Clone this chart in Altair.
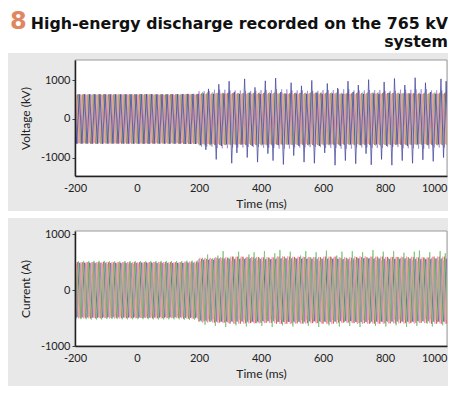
import altair as alt
import pandas as pd
from bisect import bisect_right

alt.data_transformers.disable_max_rows()

# ---------------- data ----------------
FIG_NUM = "8"
TITLE_LINES = ["High-energy discharge recorded on the 765 kV", "system"]

X_TICKS = [-200, 0, 200, 400, 600, 800, 1000]
V_TICKS = [-1000, 0, 1000]
I_TICKS = [-1000, -500, 0, 500, 1000]

FREQ_HZ = 60
TRACES = ["A1", "B1", "C1", "A2", "B2", "C2"]
COLORS = ["#e0393b", "#6cc06a", "#3d4299", "#9c82d2", "#f08ca2", "#c5ae84"]

# start of each 50 ms segment (ms)
SEG_START_MS = [-200, -150, -100, -50, 0, 50, 100, 150, 200, 250, 300, 350,
                400, 450, 500, 550, 600, 650, 700, 750, 800, 850, 900, 950]

# voltage peak amplitude per segment (kV)
V_AMP = {
    "A1": [635, 640, 638, 642, 640, 636, 640, 645, 660, 670, 665, 672, 668, 660, 670, 675, 665, 660, 668, 672, 670, 665, 660, 668],
    "B1": [645, 648, 642, 640, 646, 644, 648, 650, 690, 680, 670, 685, 690, 675, 680, 690, 685, 678, 682, 690, 680, 675, 680, 685],
    "C1": [640, 642, 638, 640, 644, 640, 642, 650, 660, 660, 660, 660, 660, 660, 660, 660, 660, 660, 660, 660, 660, 660, 660, 660],
    "A2": [640, 638, 642, 644, 640, 642, 640, 650, 720, 760, 740, 730, 750, 770, 740, 730, 750, 770, 740, 750, 730, 760, 770, 740],
    "B2": [630, 628, 632, 630, 634, 630, 628, 632, 650, 660, 655, 650, 658, 662, 650, 655, 660, 652, 650, 658, 655, 660, 650, 655],
    "C2": [620, 622, 618, 620, 624, 620, 622, 620, 640, 645, 650, 640, 645, 648, 640, 642, 650, 645, 640, 648, 645, 650, 640, 645],
}
# disturbed voltage trace: per-cycle peaks / troughs from 200 ms (kV)
V_SPIKE_TRACE = "C1"
V_SPIKE_PEAK = [660, 780, 650, 900, 660, 980, 700, 650, 1040, 680, 820, 650,
                990, 660, 1060, 700, 650, 940, 660, 860, 650, 1000, 680, 650,
                920, 660, 800, 650, 980, 700, 880, 650, 1020, 660, 650, 960,
                680, 1050, 650, 880, 660, 1070, 650, 940, 700, 650, 1040, 980]
V_SPIKE_TROUGH = [-680, -800, -660, -1050, -700, -660, -1150, -880, -660, -1000, -700, -1120,
                  -660, -900, -1080, -680, -1180, -660, -950, -700, -1120, -660, -1150, -700,
                  -880, -660, -1200, -700, -1080, -660, -1160, -680, -900, -1190, -660, -1050,
                  -700, -1200, -660, -1080, -700, -1150, -660, -1060, -680, -1100, -660, -1000]

# current peak amplitude per segment (A)
I_AMP = {
    "A1": [500, 505, 498, 502, 500, 504, 500, 510, 560, 580, 600, 590, 585, 600, 595, 590, 600, 580, 590, 600, 595, 590, 585, 600],
    "B1": [520, 525, 518, 522, 520, 524, 522, 530, 580, 580, 580, 580, 580, 580, 580, 580, 580, 580, 580, 580, 580, 580, 580, 580],
    "C1": [490, 492, 488, 490, 494, 490, 488, 495, 540, 560, 555, 560, 550, 565, 560, 555, 560, 550, 565, 560, 555, 560, 550, 560],
    "A2": [480, 482, 478, 480, 484, 480, 482, 485, 560, 570, 565, 575, 560, 570, 575, 565, 570, 560, 575, 570, 565, 570, 560, 570],
    "B2": [505, 500, 508, 504, 500, 506, 502, 510, 580, 590, 600, 595, 590, 605, 600, 595, 600, 590, 605, 600, 595, 600, 590, 600],
    "C2": [470, 472, 468, 470, 474, 470, 468, 475, 520, 530, 525, 530, 520, 535, 530, 525, 530, 520, 535, 530, 525, 530, 520, 530],
}
I_SPIKE_TRACE = "B1"
I_SPIKE_PEAK = [580, 640, 570, 620, 700, 580, 600, 690, 570, 640, 680, 580,
                700, 570, 660, 720, 580, 690, 570, 620, 700, 580, 680, 570,
                710, 580, 620, 690, 570, 700, 580, 680, 570, 720, 580, 690,
                570, 700, 580, 670, 570, 690, 710, 580, 680, 570, 700, 660]
I_SPIKE_TROUGH = [-560, -620, -570, -640, -560, -660, -570, -630, -560, -650, -570, -590,
                  -640, -560, -660, -570, -630, -560, -650, -570, -600, -640, -560, -660,
                  -570, -630, -560, -650, -570, -640, -560, -660, -570, -590, -640, -560,
                  -650, -570, -630, -560, -660, -570, -640, -560, -600, -650, -570, -630]

# ---------------- build waveforms (zig-zag between recorded peaks) ----------------
HALF_MS = 1000.0 / (2 * FREQ_HZ)
CYCLE_MS = 2 * HALF_MS


def build(amps, spike_trace, spike_peak, spike_trough):
    rows = []
    for k, name in enumerate(TRACES):
        off = k * CYCLE_MS / len(TRACES)
        n = 0
        while True:
            t = -200 - HALF_MS + off + n * HALF_MS
            if t > 1000 + HALF_MS:
                break
            pos = (n % 2 == 0)
            if name == spike_trace and t >= 200:
                c = min(int((t - 200) // CYCLE_MS), len(spike_peak) - 1)
                v = spike_peak[c] if pos else spike_trough[c]
            else:
                s = max(0, min(len(SEG_START_MS) - 1, bisect_right(SEG_START_MS, t) - 1))
                v = amps[name][s] if pos else -amps[name][s]
            rows.append({"t": t, "v": v, "trace": name})
            n += 1
    return pd.DataFrame(rows)


v_df = build(V_AMP, V_SPIKE_TRACE, V_SPIKE_PEAK, V_SPIKE_TROUGH)
i_df = build(I_AMP, I_SPIKE_TRACE, I_SPIKE_PEAK, I_SPIKE_TROUGH)

W = 372
FONT = "Lato"
one = pd.DataFrame({"k": [0]})


def panel(df, ytitle, ydom, yticks, h, spike, bg_top, bg_bottom, extra=None):
    xenc = alt.X("t:Q", scale=alt.Scale(domain=[-200, 1000], nice=False, zero=False),
                 axis=alt.Axis(values=X_TICKS, title="Time (ms)", tickSize=0, labelPadding=6,
                               titlePadding=5, grid=False, zindex=1,
                               labelExpr="'' + datum.value",
                               labelAlign={"condition": {"test": "datum.value >= 1000", "value": "right"},
                                           "value": "center"}))
    yenc = alt.Y("v:Q", scale=alt.Scale(domain=ydom, nice=False, zero=False),
                 axis=alt.Axis(values=yticks, title=ytitle, tickSize=3, labelPadding=2,
                               labelExpr="'' + datum.value",
                               titlePadding=8, grid=False, zindex=1))
    cenc = alt.Color("trace:N", scale=alt.Scale(domain=TRACES, range=COLORS), legend=None)

    bg = alt.Chart(one).mark_rect(color="#e8e8e8").encode(
        x=alt.value(-67), x2=alt.value(W + 1), y=alt.value(bg_top), y2=alt.value(bg_bottom))
    plot_bg = alt.Chart(one).mark_rect(fill="white", stroke="#9a9a9a", strokeWidth=1).encode(
        x=alt.value(0), x2=alt.value(W), y=alt.value(0), y2=alt.value(h))
    lines = alt.Chart(df[df.trace != spike]).mark_line(strokeWidth=0.8, clip=True, opacity=0.85).encode(
        x=xenc, y=yenc, color=cenc, detail="trace:N")
    sp = alt.Chart(df[df.trace == spike]).mark_line(strokeWidth=0.8, clip=True, opacity=0.9).encode(
        x="t:Q", y="v:Q", color=cenc)
    layers = [bg, plot_bg, lines, sp]
    if extra:
        layers += extra
    return alt.layer(*layers).properties(width=W, height=h)


title_df1 = pd.DataFrame({"s": [TITLE_LINES[0]]})
title_df2 = pd.DataFrame({"s": [TITLE_LINES[1]]})
num_df = pd.DataFrame({"s": [FIG_NUM]})
TFONT = "DejaVu Sans"
t1 = alt.Chart(title_df1).mark_text(align="right", baseline="alphabetic", font=TFONT, fontSize=15.8,
                                    fontWeight="bold", color="#111").encode(
    x=alt.value(W + 1), y=alt.value(-31), text="s:N")
t2 = alt.Chart(title_df2).mark_text(align="right", baseline="alphabetic", font=TFONT, fontSize=15.8,
                                    fontWeight="bold", color="#111").encode(
    x=alt.value(W + 1), y=alt.value(-13), text="s:N")
t8 = alt.Chart(num_df).mark_text(align="left", baseline="alphabetic", font=TFONT, fontSize=24,
                                 fontWeight="bold", color="#e0875f").encode(
    x=alt.value(-65), y=alt.value(-31), text="s:N")

top = panel(v_df, "Voltage (kV)", [-1480, 1530], V_TICKS, 116, V_SPIKE_TRACE, -7, 151, [t1, t2, t8])
bottom = panel(i_df, "Current (A)", [-1000, 1060], I_TICKS, 115, I_SPIKE_TRACE, -13, 155)

chart = alt.vconcat(top, bottom, spacing=7).properties(
    padding={"top": 2, "left": 0, "right": 0, "bottom": 0}, background="white"
).configure_view(stroke=None).configure_axis(
    labelFont=FONT, titleFont=FONT, labelFontSize=11, titleFontSize=12,
    titleFontWeight="normal", labelColor="#222", titleColor="#222",
    domainColor="#222", domainWidth=1.5, tickColor="#444"
)

chart.save("out.html", embed_options={"renderer": "svg", "actions": False})
